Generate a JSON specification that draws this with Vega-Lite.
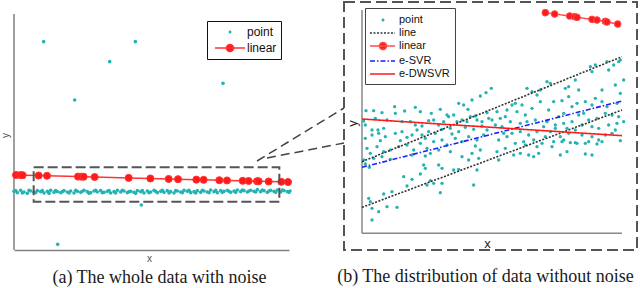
{
  "$schema": "https://vega.github.io/schema/vega-lite/v6.json",
  "padding": {"left": 0, "top": 1, "right": 0, "bottom": 0},
  "bounds": "flush",
  "spacing": 55,
  "config": {
    "font": "Liberation Sans",
    "view": {"stroke": null},
    "axis": {"grid": false, "ticks": false, "labels": false, "domain": false, "titleFontWeight": "normal"},
    "title": {"font": "Liberation Serif", "fontSize": 18, "fontWeight": "normal", "color": "#1a1a1a", "orient": "bottom", "anchor": "middle"}
  },
  "resolve": {
    "scale": {"fill": "independent", "stroke": "independent", "shape": "independent", "strokeDash": "independent", "x": "independent", "y": "independent"},
    "legend": {"fill": "independent", "stroke": "independent", "shape": "independent", "strokeDash": "independent"}
  },
  "datasets": {
    "leftLegend": [{"series":"point"},{"series":"linear"}],
    "leftPts": [
      {"x":0.89,"y":6.25,"series":"point"},{"x":3.64,"y":6.25,"series":"point"},{"x":2.87,"y":5.65,"series":"point"},{"x":1.82,"y":4.5,"series":"point"},{"x":6.27,"y":5.0,"series":"point"},{"x":1.31,"y":0.17,"series":"point"},{"x":3.82,"y":1.35,"series":"point"},
      {"x":0.0,"y":1.76,"series":"point"},{"x":0.1,"y":1.72,"series":"point"},{"x":0.2,"y":1.79,"series":"point"},{"x":0.3,"y":1.74,"series":"point"},{"x":0.4,"y":1.7,"series":"point"},{"x":0.5,"y":1.77,"series":"point"},{"x":0.6,"y":1.73,"series":"point"},{"x":0.7,"y":1.78,"series":"point"},{"x":0.8,"y":1.75,"series":"point"},{"x":0.9,"y":1.71,"series":"point"},
      {"x":1.0,"y":1.76,"series":"point"},{"x":1.1,"y":1.79,"series":"point"},{"x":1.2,"y":1.73,"series":"point"},{"x":1.3,"y":1.75,"series":"point"},{"x":1.4,"y":1.72,"series":"point"},{"x":1.5,"y":1.78,"series":"point"},{"x":1.6,"y":1.74,"series":"point"},{"x":1.7,"y":1.77,"series":"point"},{"x":1.8,"y":1.71,"series":"point"},{"x":1.9,"y":1.76,"series":"point"},
      {"x":2.0,"y":1.73,"series":"point"},{"x":2.1,"y":1.79,"series":"point"},{"x":2.2,"y":1.75,"series":"point"},{"x":2.3,"y":1.72,"series":"point"},{"x":2.4,"y":1.77,"series":"point"},{"x":2.5,"y":1.74,"series":"point"},{"x":2.6,"y":1.78,"series":"point"},{"x":2.7,"y":1.73,"series":"point"},{"x":2.8,"y":1.76,"series":"point"},{"x":2.9,"y":1.71,"series":"point"},
      {"x":3.0,"y":1.75,"series":"point"},{"x":3.1,"y":1.79,"series":"point"},{"x":3.2,"y":1.74,"series":"point"},{"x":3.3,"y":1.77,"series":"point"},{"x":3.4,"y":1.72,"series":"point"},{"x":3.5,"y":1.76,"series":"point"},{"x":3.6,"y":1.73,"series":"point"},{"x":3.7,"y":1.78,"series":"point"},{"x":3.8,"y":1.75,"series":"point"},{"x":3.9,"y":1.71,"series":"point"},
      {"x":4.0,"y":1.77,"series":"point"},{"x":4.1,"y":1.74,"series":"point"},{"x":4.2,"y":1.79,"series":"point"},{"x":4.3,"y":1.72,"series":"point"},{"x":4.4,"y":1.76,"series":"point"},{"x":4.5,"y":1.73,"series":"point"},{"x":4.6,"y":1.78,"series":"point"},{"x":4.7,"y":1.75,"series":"point"},{"x":4.8,"y":1.71,"series":"point"},{"x":4.9,"y":1.77,"series":"point"},
      {"x":5.0,"y":1.74,"series":"point"},{"x":5.1,"y":1.79,"series":"point"},{"x":5.2,"y":1.76,"series":"point"},{"x":5.3,"y":1.72,"series":"point"},{"x":5.4,"y":1.75,"series":"point"},{"x":5.5,"y":1.78,"series":"point"},{"x":5.6,"y":1.73,"series":"point"},{"x":5.7,"y":1.77,"series":"point"},{"x":5.8,"y":1.74,"series":"point"},{"x":5.9,"y":1.8,"series":"point"},
      {"x":6.0,"y":1.75,"series":"point"},{"x":6.1,"y":1.72,"series":"point"},{"x":6.2,"y":1.78,"series":"point"},{"x":6.3,"y":1.76,"series":"point"},{"x":6.4,"y":1.79,"series":"point"},{"x":6.5,"y":1.73,"series":"point"},{"x":6.6,"y":1.77,"series":"point"},{"x":6.7,"y":1.8,"series":"point"},{"x":6.8,"y":1.75,"series":"point"},{"x":6.9,"y":1.78,"series":"point"},
      {"x":7.0,"y":1.74,"series":"point"},{"x":7.1,"y":1.79,"series":"point"},{"x":7.2,"y":1.76,"series":"point"},{"x":7.3,"y":1.81,"series":"point"},{"x":7.4,"y":1.75,"series":"point"},{"x":7.5,"y":1.78,"series":"point"},{"x":7.6,"y":1.73,"series":"point"},{"x":7.7,"y":1.79,"series":"point"},{"x":7.8,"y":1.76,"series":"point"},{"x":7.9,"y":1.8,"series":"point"},
      {"x":8.0,"y":1.74,"series":"point"},{"x":8.1,"y":1.78,"series":"point"},{"x":8.2,"y":1.75,"series":"point"},{"x":8.28,"y":1.77,"series":"point"},
      {"x":0.05,"y":1.78,"series":"point"},{"x":0.25,"y":1.71,"series":"point"},{"x":0.45,"y":1.79,"series":"point"},{"x":0.65,"y":1.72,"series":"point"},{"x":0.85,"y":1.78,"series":"point"},{"x":1.05,"y":1.7,"series":"point"},{"x":1.25,"y":1.78,"series":"point"},{"x":1.45,"y":1.75,"series":"point"},{"x":1.65,"y":1.71,"series":"point"},{"x":1.85,"y":1.79,"series":"point"},
      {"x":2.05,"y":1.76,"series":"point"},{"x":2.25,"y":1.7,"series":"point"},{"x":2.45,"y":1.79,"series":"point"},{"x":2.65,"y":1.72,"series":"point"},{"x":2.85,"y":1.78,"series":"point"},{"x":3.05,"y":1.71,"series":"point"},{"x":3.25,"y":1.79,"series":"point"},{"x":3.45,"y":1.75,"series":"point"},{"x":3.65,"y":1.7,"series":"point"},{"x":3.85,"y":1.78,"series":"point"},
      {"x":4.05,"y":1.72,"series":"point"},{"x":4.25,"y":1.76,"series":"point"},{"x":4.45,"y":1.79,"series":"point"},{"x":4.65,"y":1.71,"series":"point"},{"x":4.85,"y":1.78,"series":"point"},{"x":5.05,"y":1.72,"series":"point"},{"x":5.25,"y":1.79,"series":"point"},{"x":5.45,"y":1.71,"series":"point"},{"x":5.65,"y":1.79,"series":"point"},{"x":5.85,"y":1.72,"series":"point"},
      {"x":6.05,"y":1.79,"series":"point"},{"x":6.25,"y":1.73,"series":"point"},{"x":6.45,"y":1.76,"series":"point"},{"x":6.65,"y":1.73,"series":"point"},{"x":6.85,"y":1.8,"series":"point"},{"x":7.05,"y":1.77,"series":"point"},{"x":7.25,"y":1.74,"series":"point"},{"x":7.45,"y":1.8,"series":"point"},{"x":7.65,"y":1.77,"series":"point"},{"x":7.85,"y":1.73,"series":"point"},
      {"x":8.05,"y":1.8,"series":"point"},{"x":8.25,"y":1.73,"series":"point"}
    ],
    "leftLin": [
      {"x":0.06,"y":2.25,"series":"linear"},{"x":0.19,"y":2.247,"series":"linear"},{"x":0.26,"y":2.245,"series":"linear"},{"x":0.74,"y":2.233,"series":"linear"},{"x":0.99,"y":2.226,"series":"linear"},{"x":1.92,"y":2.202,"series":"linear"},{"x":2.02,"y":2.2,"series":"linear"},{"x":2.09,"y":2.198,"series":"linear"},{"x":2.42,"y":2.189,"series":"linear"},{"x":3.44,"y":2.163,"series":"linear"},{"x":4.09,"y":2.146,"series":"linear"},{"x":4.64,"y":2.132,"series":"linear"},
      {"x":4.92,"y":2.125,"series":"linear"},{"x":5.47,"y":2.111,"series":"linear"},{"x":5.69,"y":2.105,"series":"linear"},{"x":6.16,"y":2.093,"series":"linear"},{"x":6.39,"y":2.087,"series":"linear"},{"x":6.86,"y":2.075,"series":"linear"},{"x":7.04,"y":2.071,"series":"linear"},{"x":7.29,"y":2.064,"series":"linear"},{"x":7.34,"y":2.063,"series":"linear"},{"x":7.64,"y":2.055,"series":"linear"},{"x":8.02,"y":2.045,"series":"linear"},{"x":8.22,"y":2.04,"series":"linear"}
    ],
    "leftFrame": [{"x":0,"y":0,"y2":7.08}],
    "leftBox": [{"x":0.59,"x2":7.96,"y":1.45,"y2":2.48}],
    "leftLink": [{"x":7.29,"y":2.67,"x2":9.9,"y2":4.26},{"x":7.59,"y":2.76,"x2":9.9,"y2":3.21}],
    "rightLegend": [{"series":"point"},{"series":"line"},{"series":"linear"},{"series":"e-SVR"},{"series":"e-DWSVR"}],
    "rightFrame": [{"x":0,"y":0,"x2":0,"y2":6.7},{"x":0,"y":0,"x2":7.8,"y2":0}],
    "rightPts": [
      {"x":0.12,"y":3.68,"series":"point"},{"x":0.35,"y":3.68,"series":"point"},{"x":0.98,"y":3.8,"series":"point"},{"x":1.28,"y":3.67,"series":"point"},{"x":1.75,"y":3.65,"series":"point"},{"x":2.08,"y":3.6,"series":"point"},{"x":2.55,"y":3.55,"series":"point"},{"x":2.9,"y":3.9,"series":"point"},{"x":3.05,"y":3.85,"series":"point"},{"x":3.18,"y":3.72,"series":"point"},{"x":3.4,"y":3.52,"series":"point"},{"x":3.75,"y":3.62,"series":"point"},
      {"x":0.05,"y":3.37,"series":"point"},{"x":0.1,"y":3.25,"series":"point"},{"x":0.3,"y":3.1,"series":"point"},{"x":0.48,"y":3.1,"series":"point"},{"x":0.65,"y":3.15,"series":"point"},{"x":0.75,"y":3.4,"series":"point"},{"x":1.0,"y":3.6,"series":"point"},{"x":1.2,"y":3.35,"series":"point"},{"x":1.45,"y":3.35,"series":"point"},{"x":1.6,"y":3.25,"series":"point"},{"x":1.8,"y":3.22,"series":"point"},{"x":2.0,"y":3.38,"series":"point"},
      {"x":2.15,"y":3.4,"series":"point"},{"x":2.3,"y":3.25,"series":"point"},{"x":2.45,"y":3.35,"series":"point"},{"x":2.6,"y":3.5,"series":"point"},{"x":2.75,"y":3.55,"series":"point"},{"x":2.85,"y":3.35,"series":"point"},{"x":3.0,"y":3.4,"series":"point"},{"x":3.15,"y":3.35,"series":"point"},{"x":3.25,"y":3.5,"series":"point"},{"x":3.45,"y":3.4,"series":"point"},{"x":3.6,"y":3.35,"series":"point"},{"x":3.8,"y":3.45,"series":"point"},
      {"x":0.1,"y":2.85,"series":"point"},{"x":0.3,"y":2.95,"series":"point"},{"x":0.5,"y":3.0,"series":"point"},{"x":0.7,"y":2.9,"series":"point"},{"x":1.0,"y":3.0,"series":"point"},{"x":1.2,"y":3.05,"series":"point"},{"x":1.35,"y":2.88,"series":"point"},{"x":1.5,"y":2.95,"series":"point"},{"x":1.65,"y":3.1,"series":"point"},{"x":1.8,"y":2.95,"series":"point"},{"x":2.0,"y":3.05,"series":"point"},{"x":2.2,"y":3.0,"series":"point"},
      {"x":2.4,"y":3.12,"series":"point"},{"x":2.65,"y":3.15,"series":"point"},{"x":2.9,"y":3.05,"series":"point"},{"x":3.1,"y":3.18,"series":"point"},{"x":3.35,"y":3.12,"series":"point"},{"x":3.6,"y":3.22,"series":"point"},{"x":3.75,"y":3.1,"series":"point"},
      {"x":0.15,"y":2.55,"series":"point"},{"x":0.25,"y":2.4,"series":"point"},{"x":0.45,"y":2.6,"series":"point"},{"x":0.65,"y":2.45,"series":"point"},{"x":0.85,"y":2.5,"series":"point"},{"x":1.1,"y":2.6,"series":"point"},{"x":1.35,"y":2.65,"series":"point"},{"x":1.55,"y":2.5,"series":"point"},{"x":1.75,"y":2.7,"series":"point"},{"x":1.95,"y":2.55,"series":"point"},{"x":2.15,"y":2.75,"series":"point"},{"x":2.4,"y":2.8,"series":"point"},
      {"x":2.55,"y":2.65,"series":"point"},{"x":2.8,"y":2.85,"series":"point"},{"x":3.0,"y":2.75,"series":"point"},{"x":3.2,"y":2.9,"series":"point"},{"x":3.45,"y":2.8,"series":"point"},{"x":3.65,"y":2.95,"series":"point"},{"x":0.05,"y":2.2,"series":"point"},{"x":0.35,"y":2.25,"series":"point"},{"x":0.6,"y":2.3,"series":"point"},{"x":0.85,"y":2.22,"series":"point"},{"x":1.5,"y":2.35,"series":"point"},{"x":1.9,"y":2.32,"series":"point"},
      {"x":2.3,"y":2.5,"series":"point"},{"x":2.65,"y":2.45,"series":"point"},{"x":3.0,"y":2.3,"series":"point"},{"x":3.3,"y":2.4,"series":"point"},{"x":3.55,"y":2.5,"series":"point"},
      {"x":3.3,"y":4.0,"series":"point"},{"x":3.55,"y":4.12,"series":"point"},{"x":3.72,"y":4.22,"series":"point"},{"x":3.88,"y":4.35,"series":"point"},
      {"x":0.4,"y":3.45,"series":"point"},{"x":0.6,"y":3.62,"series":"point"},{"x":1.6,"y":3.78,"series":"point"},{"x":2.35,"y":3.72,"series":"point"},{"x":1.15,"y":2.78,"series":"point"},{"x":1.9,"y":2.85,"series":"point"},{"x":2.7,"y":2.98,"series":"point"},{"x":3.4,"y":2.62,"series":"point"},{"x":0.55,"y":2.78,"series":"point"},{"x":2.05,"y":2.4,"series":"point"},
      {"x":6.85,"y":5.0,"series":"point"},{"x":6.9,"y":4.85,"series":"point"},{"x":7.4,"y":4.9,"series":"point"},{"x":7.35,"y":5.15,"series":"point"},{"x":7.75,"y":5.2,"series":"point"},{"x":5.55,"y":4.55,"series":"point"},{"x":5.65,"y":4.5,"series":"point"},{"x":6.2,"y":4.4,"series":"point"},{"x":4.95,"y":4.35,"series":"point"},{"x":5.1,"y":4.25,"series":"point"},{"x":5.25,"y":4.15,"series":"point"},{"x":5.35,"y":4.3,"series":"point"},
      {"x":4.5,"y":3.85,"series":"point"},{"x":4.6,"y":3.9,"series":"point"},{"x":4.8,"y":3.85,"series":"point"},{"x":4.65,"y":3.65,"series":"point"},{"x":4.05,"y":3.65,"series":"point"},{"x":4.15,"y":3.45,"series":"point"},{"x":4.3,"y":3.5,"series":"point"},{"x":3.9,"y":3.4,"series":"point"},{"x":5.1,"y":3.75,"series":"point"},{"x":5.75,"y":3.95,"series":"point"},{"x":6.0,"y":3.98,"series":"point"},{"x":6.2,"y":4.1,"series":"point"},
      {"x":6.7,"y":3.95,"series":"point"},{"x":6.9,"y":3.85,"series":"point"},{"x":7.0,"y":4.05,"series":"point"},{"x":7.2,"y":3.95,"series":"point"},{"x":7.35,"y":3.8,"series":"point"},{"x":7.65,"y":3.9,"series":"point"},{"x":7.75,"y":4.2,"series":"point"},{"x":6.3,"y":3.8,"series":"point"},{"x":6.05,"y":3.6,"series":"point"},{"x":5.9,"y":3.5,"series":"point"},{"x":6.5,"y":3.55,"series":"point"},{"x":6.65,"y":3.6,"series":"point"},
      {"x":6.8,"y":3.4,"series":"point"},{"x":7.3,"y":3.6,"series":"point"},{"x":7.5,"y":3.55,"series":"point"},{"x":7.7,"y":3.5,"series":"point"},{"x":6.3,"y":3.35,"series":"point"},{"x":6.05,"y":3.3,"series":"point"},{"x":5.8,"y":3.25,"series":"point"},{"x":5.55,"y":3.35,"series":"point"},{"x":4.0,"y":3.25,"series":"point"},{"x":4.2,"y":3.2,"series":"point"},{"x":4.45,"y":3.35,"series":"point"},{"x":4.75,"y":3.3,"series":"point"},
      {"x":4.95,"y":3.35,"series":"point"},{"x":5.2,"y":3.4,"series":"point"},{"x":5.45,"y":3.2,"series":"point"},{"x":5.8,"y":3.15,"series":"point"},{"x":6.15,"y":3.15,"series":"point"},{"x":6.4,"y":3.1,"series":"point"},{"x":6.9,"y":3.2,"series":"point"},{"x":7.1,"y":3.15,"series":"point"},{"x":7.4,"y":3.25,"series":"point"},{"x":7.65,"y":3.3,"series":"point"},{"x":7.85,"y":3.35,"series":"point"},
      {"x":4.5,"y":3.0,"series":"point"},{"x":4.75,"y":3.05,"series":"point"},{"x":5.0,"y":2.95,"series":"point"},{"x":5.25,"y":3.05,"series":"point"},{"x":5.5,"y":2.9,"series":"point"},{"x":5.95,"y":2.9,"series":"point"},{"x":6.2,"y":3.0,"series":"point"},{"x":6.6,"y":2.95,"series":"point"},{"x":6.9,"y":2.9,"series":"point"},{"x":7.3,"y":2.95,"series":"point"},{"x":7.5,"y":3.0,"series":"point"},
      {"x":4.1,"y":2.8,"series":"point"},{"x":4.35,"y":2.9,"series":"point"},{"x":4.6,"y":2.7,"series":"point"},{"x":4.85,"y":2.75,"series":"point"},{"x":5.15,"y":2.8,"series":"point"},{"x":5.4,"y":2.7,"series":"point"},{"x":5.75,"y":2.75,"series":"point"},{"x":6.05,"y":2.8,"series":"point"},{"x":6.45,"y":2.7,"series":"point"},{"x":6.8,"y":2.75,"series":"point"},{"x":7.1,"y":2.8,"series":"point"},
      {"x":6.1,"y":4.35,"series":"point"},{"x":6.4,"y":4.6,"series":"point"},{"x":6.5,"y":4.3,"series":"point"},{"x":7.2,"y":4.3,"series":"point"},{"x":7.6,"y":4.45,"series":"point"},{"x":7.85,"y":4.6,"series":"point"},{"x":7.55,"y":5.05,"series":"point"},{"x":7.0,"y":5.05,"series":"point"},{"x":7.7,"y":5.15,"series":"point"},
      {"x":4.35,"y":3.7,"series":"point"},{"x":4.9,"y":3.55,"series":"point"},{"x":5.6,"y":3.7,"series":"point"},{"x":6.45,"y":3.9,"series":"point"},{"x":7.05,"y":3.45,"series":"point"},{"x":5.35,"y":3.95,"series":"point"},{"x":4.25,"y":3.0,"series":"point"},{"x":5.65,"y":3.05,"series":"point"},{"x":6.6,"y":3.25,"series":"point"},{"x":7.6,"y":3.1,"series":"point"},
      {"x":1.85,"y":2.05,"series":"point"},{"x":1.9,"y":1.95,"series":"point"},{"x":2.3,"y":2.05,"series":"point"},{"x":2.4,"y":1.95,"series":"point"},{"x":3.2,"y":2.2,"series":"point"},{"x":3.5,"y":2.25,"series":"point"},{"x":3.45,"y":1.9,"series":"point"},{"x":2.75,"y":1.9,"series":"point"},{"x":2.9,"y":1.92,"series":"point"},{"x":1.25,"y":1.7,"series":"point"},{"x":1.5,"y":1.62,"series":"point"},{"x":1.75,"y":1.78,"series":"point"},
      {"x":1.35,"y":1.42,"series":"point"},{"x":2.05,"y":1.58,"series":"point"},{"x":2.15,"y":1.5,"series":"point"},{"x":1.95,"y":1.45,"series":"point"},{"x":2.4,"y":1.5,"series":"point"},{"x":3.35,"y":1.45,"series":"point"},{"x":2.35,"y":1.22,"series":"point"},{"x":0.65,"y":1.18,"series":"point"},{"x":0.9,"y":1.25,"series":"point"},{"x":0.2,"y":1.05,"series":"point"},{"x":0.25,"y":0.95,"series":"point"},{"x":0.3,"y":0.75,"series":"point"},
      {"x":0.5,"y":0.65,"series":"point"},{"x":0.75,"y":0.8,"series":"point"},{"x":1.05,"y":0.78,"series":"point"},{"x":0.3,"y":0.4,"series":"point"},{"x":0.1,"y":2.08,"series":"point"},{"x":0.22,"y":1.98,"series":"point"},
      {"x":4.05,"y":2.45,"series":"point"},{"x":4.1,"y":2.2,"series":"point"},{"x":4.3,"y":2.55,"series":"point"},{"x":4.55,"y":2.35,"series":"point"},{"x":4.75,"y":2.4,"series":"point"},{"x":4.9,"y":2.65,"series":"point"},{"x":5.0,"y":2.35,"series":"point"},{"x":5.15,"y":2.3,"series":"point"},{"x":5.25,"y":2.6,"series":"point"},{"x":5.3,"y":2.4,"series":"point"},{"x":5.7,"y":2.6,"series":"point"},
      {"x":5.95,"y":2.35,"series":"point"},{"x":6.0,"y":2.75,"series":"point"},{"x":6.15,"y":2.45,"series":"point"},{"x":6.25,"y":2.72,"series":"point"},{"x":6.4,"y":2.72,"series":"point"},{"x":6.7,"y":2.7,"series":"point"},{"x":6.7,"y":2.38,"series":"point"},{"x":6.9,"y":2.35,"series":"point"},{"x":7.05,"y":2.68,"series":"point"},{"x":7.2,"y":2.75,"series":"point"},{"x":7.75,"y":2.78,"series":"point"}
    ],
    "rightLines": [
      {"id":"upper","series":"line","x":0,"y":2.15},{"id":"upper","series":"line","x":7.8,"y":5.3},
      {"id":"lower","series":"line","x":0,"y":0.78},{"id":"lower","series":"line","x":7.8,"y":3.7},
      {"id":"svr","series":"e-SVR","x":0,"y":1.98},{"id":"svr","series":"e-SVR","x":7.8,"y":3.97},
      {"id":"dw","series":"e-DWSVR","x":0,"y":3.43},{"id":"dw","series":"e-DWSVR","x":7.8,"y":2.93}
    ],
    "rightLin": [
      {"x":5.5,"y":6.62,"series":"linear"},{"x":5.78,"y":6.58,"series":"linear"},{"x":6.23,"y":6.52,"series":"linear"},{"x":6.38,"y":6.5,"series":"linear"},{"x":6.45,"y":6.48,"series":"linear"},{"x":6.9,"y":6.42,"series":"linear"},{"x":7.05,"y":6.4,"series":"linear"},{"x":7.3,"y":6.36,"series":"linear"},{"x":7.35,"y":6.34,"series":"linear"},{"x":7.67,"y":6.28,"series":"linear"}
    ]
  },
  "hconcat": [
    {
      "width": 275,
      "height": 248,
      "title": {"text": "(a) The whole data with noise", "orient": "bottom", "anchor": "middle", "dx": 8, "offset": 6},
      "encoding": {
        "x": {"field": "x", "type": "quantitative", "scale": {"domain": [0, 8.25], "nice": false, "zero": false},
              "axis": {"title": "x", "domain": true, "domainColor": "#808080", "domainWidth": 1.5, "titleFontSize": 10, "titleColor": "#555555", "titleX": 135, "titleY": 8, "titleBaseline": "middle", "titleAlign": "center"}},
        "y": {"field": "y", "type": "quantitative", "scale": {"domain": [0, 7.44], "nice": false, "zero": false},
              "axis": {"title": "y", "titleFontSize": 10, "titleColor": "#555555", "titleX": -9, "titleY": 133, "titleBaseline": "middle", "titleAlign": "center"}}
      },
      "layer": [
        {"data": {"name": "leftFrame"}, "mark": {"type": "rule", "color": "#808080", "strokeWidth": 1.5}, "encoding": {"y2": {"field": "y2"}}},
        {"data": {"name": "leftPts"}, "mark": {"type": "point", "size": 13, "opacity": 1, "shape": "circle", "strokeWidth": 1},
         "encoding": {
           "fill": {"field": "series", "type": "nominal", "scale": {"domain": ["point", "linear"], "range": ["#23b3b3", "#ff1a1a"]},
             "legend": {"title": null, "orient": "none", "legendX": 193, "legendY": 19, "padding": 4, "symbolSize": 144, "symbolStrokeWidth": 1.5, "symbolOpacity": 1,
               "rowPadding": 3, "labelOffset": 22, "labelFont": "Liberation Sans", "labelFontSize": 12, "labelColor": "#111111",
               "fillColor": "white", "strokeColor": "#111111", "symbolFillColor": "transparent", "symbolStrokeColor": "transparent"}},
           "stroke": {"field": "series", "type": "nominal", "scale": {"domain": ["point", "linear"], "range": ["transparent", "#ff3333"]}}
         }},
        {"data": {"name": "leftLin"}, "mark": {"type": "line", "strokeWidth": 1.5},
         "encoding": {"stroke": {"field": "series", "type": "nominal", "scale": {"domain": ["point", "linear"], "range": ["transparent", "#ff3333"]}}}},
        {"data": {"name": "leftLin"}, "mark": {"type": "point", "size": 50, "opacity": 1, "shape": "circle", "strokeWidth": 1},
         "encoding": {
           "fill": {"field": "series", "type": "nominal", "scale": {"domain": ["point", "linear"], "range": ["#23b3b3", "#ff1a1a"]}},
           "stroke": {"field": "series", "type": "nominal", "scale": {"domain": ["point", "linear"], "range": ["transparent", "#ff3333"]}}
         }},
        {"data": {"name": "leftLegend"}, "mark": {"type": "point", "opacity": 1},
         "encoding": {
           "fill": {"field": "series", "type": "nominal", "scale": {"domain": ["point", "linear"], "range": ["#23b3b3", "#ff1a1a"]}},
           "stroke": {"field": "series", "type": "nominal", "scale": {"domain": ["point", "linear"], "range": ["transparent", "#ff3333"]}},
           "shape": {"field": "series", "type": "nominal", "scale": {"domain": ["point", "linear"],
             "range": ["M2.25,0A0.25,0.25,0,1,1,1.75,0A0.25,0.25,0,1,1,2.25,0", "M-0.5,0H4.5M2.6,0A0.6,0.6,0,1,1,1.4,0A0.6,0.6,0,1,1,2.6,0"]}}
         }},
        {"data": {"name": "leftBox"}, "mark": {"type": "rect", "fill": null, "stroke": "#555555", "strokeWidth": 2, "strokeDash": [10, 4]},
         "encoding": {"x2": {"field": "x2"}, "y2": {"field": "y2"}}},
        {"data": {"name": "leftLink"}, "mark": {"type": "rule", "color": "#444444", "strokeWidth": 1.5, "strokeDash": [9, 5]},
         "encoding": {"x2": {"field": "x2"}, "y2": {"field": "y2"}}}
      ]
    },
    {
      "width": 293,
      "height": 248,
      "view": {"stroke": "#555555", "strokeDash": [11, 5], "strokeWidth": 2},
      "title": {"text": "(b) The distribution of data without noise", "orient": "bottom", "anchor": "middle", "dx": -5, "offset": 18},
      "encoding": {
        "x": {"field": "x", "type": "quantitative", "scale": {"domain": [-0.54, 8.25], "nice": false, "zero": false},
              "axis": {"title": "x", "titleFontSize": 13, "titleColor": "#222222", "titleX": 143, "titleY": -7, "titleBaseline": "middle", "titleAlign": "center"}},
        "y": {"field": "y", "type": "quantitative", "scale": {"domain": [-0.5, 6.94], "nice": false, "zero": false},
              "axis": {"title": "y", "titleFontSize": 13, "titleColor": "#222222", "titleX": 8, "titleY": 121, "titleBaseline": "middle", "titleAlign": "center"}}
      },
      "layer": [
        {"data": {"name": "rightFrame"}, "mark": {"type": "rule", "color": "#888888", "strokeWidth": 1.5}, "encoding": {"x2": {"field": "x2"}, "y2": {"field": "y2"}}},
        {"data": {"name": "rightPts"}, "mark": {"type": "point", "size": 11, "opacity": 1, "shape": "circle", "strokeWidth": 1},
         "encoding": {
           "fill": {"field": "series", "type": "nominal", "scale": {"domain": ["point", "line", "linear", "e-SVR", "e-DWSVR"], "range": ["#23b3b3", "transparent", "#ff1a1a", "transparent", "transparent"]},
             "legend": {"title": null, "orient": "none", "legendX": 21, "legendY": 6, "padding": 5, "symbolSize": 144, "symbolStrokeWidth": 1.5, "symbolOpacity": 1,
               "rowPadding": 1, "labelOffset": 15, "labelFont": "Liberation Sans", "labelFontSize": 11, "labelColor": "#111111",
               "fillColor": "white", "strokeColor": "#444444", "symbolFillColor": "transparent", "symbolStrokeColor": "transparent"}},
           "stroke": {"field": "series", "type": "nominal", "scale": {"domain": ["point", "line", "linear", "e-SVR", "e-DWSVR"], "range": ["transparent", "#333333", "#ff4d4d", "#1f1fff", "#ff1a1a"]}}
         }},
        {"data": {"name": "rightLines"}, "mark": {"type": "line", "strokeWidth": 1.6},
         "encoding": {
           "detail": {"field": "id", "type": "nominal"},
           "stroke": {"field": "series", "type": "nominal", "scale": {"domain": ["point", "line", "linear", "e-SVR", "e-DWSVR"], "range": ["transparent", "#333333", "#ff4d4d", "#1f1fff", "#ff1a1a"]}},
           "strokeDash": {"field": "series", "type": "nominal", "scale": {"domain": ["point", "line", "linear", "e-SVR", "e-DWSVR"], "range": [[1, 0], [2, 1.5], [1, 0], [5, 2, 1.5, 2], [1, 0]]}}
         }},
        {"data": {"name": "rightLin"}, "mark": {"type": "line", "strokeWidth": 1.5},
         "encoding": {
           "stroke": {"field": "series", "type": "nominal", "scale": {"domain": ["point", "line", "linear", "e-SVR", "e-DWSVR"], "range": ["transparent", "#333333", "#ff4d4d", "#1f1fff", "#ff1a1a"]}},
           "strokeDash": {"field": "series", "type": "nominal", "scale": {"domain": ["point", "line", "linear", "e-SVR", "e-DWSVR"], "range": [[1, 0], [2, 1.5], [1, 0], [5, 2, 1.5, 2], [1, 0]]}}
         }},
        {"data": {"name": "rightLin"}, "mark": {"type": "point", "size": 45, "opacity": 1, "shape": "circle", "strokeWidth": 1},
         "encoding": {
           "fill": {"field": "series", "type": "nominal", "scale": {"domain": ["point", "line", "linear", "e-SVR", "e-DWSVR"], "range": ["#23b3b3", "transparent", "#ff1a1a", "transparent", "transparent"]}},
           "stroke": {"field": "series", "type": "nominal", "scale": {"domain": ["point", "line", "linear", "e-SVR", "e-DWSVR"], "range": ["transparent", "#333333", "#ff4d4d", "#1f1fff", "#ff1a1a"]}}
         }},
        {"data": {"name": "rightLegend"}, "mark": {"type": "point", "opacity": 1},
         "encoding": {
           "fill": {"field": "series", "type": "nominal", "scale": {"domain": ["point", "line", "linear", "e-SVR", "e-DWSVR"], "range": ["#23b3b3", "transparent", "#ff1a1a", "transparent", "transparent"]}},
           "stroke": {"field": "series", "type": "nominal", "scale": {"domain": ["point", "line", "linear", "e-SVR", "e-DWSVR"], "range": ["transparent", "#333333", "#ff4d4d", "#1f1fff", "#ff1a1a"]}},
           "strokeDash": {"field": "series", "type": "nominal", "scale": {"domain": ["point", "line", "linear", "e-SVR", "e-DWSVR"], "range": [[1, 0], [2, 1.5], [1, 0], [5, 2, 1.5, 2], [1, 0]]}},
           "shape": {"field": "series", "type": "nominal", "scale": {"domain": ["point", "line", "linear", "e-SVR", "e-DWSVR"],
             "range": ["M1.25,0A0.25,0.25,0,1,1,0.75,0A0.25,0.25,0,1,1,1.25,0", "M-1.17,0H3", "M-1.17,0H3M1.6,0A0.6,0.6,0,1,1,0.4,0A0.6,0.6,0,1,1,1.6,0", "M-1.17,0H3", "M-1.17,0H3"]}}
         }}
      ]
    }
  ]
}
